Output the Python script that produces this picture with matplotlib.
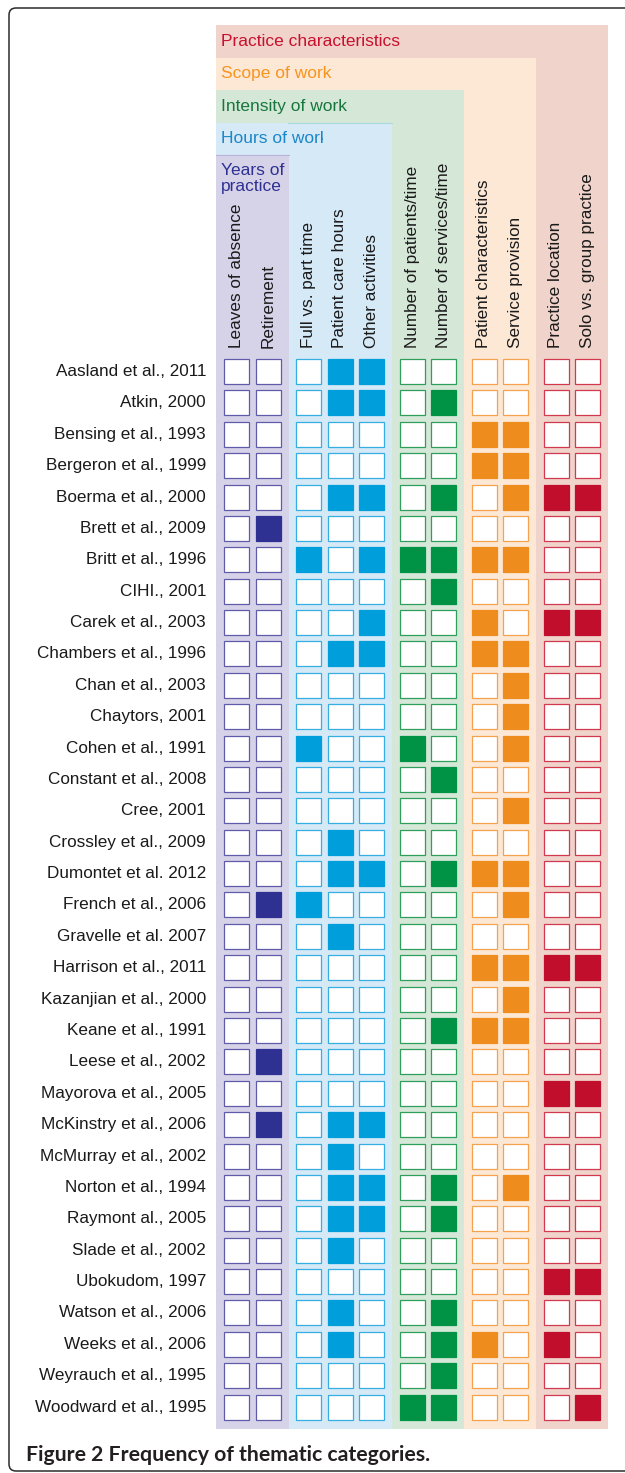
import matplotlib
matplotlib.use("Agg")
import matplotlib.pyplot as plt
from matplotlib.patches import Rectangle, FancyBboxPatch

# ---------------- data ----------------
studies = [
    "Aasland et al., 2011", "Atkin, 2000", "Bensing et al., 1993", "Bergeron et al., 1999",
    "Boerma et al., 2000", "Brett et al., 2009", "Britt et al., 1996", "CIHI., 2001",
    "Carek et al., 2003", "Chambers et al., 1996", "Chan et al., 2003", "Chaytors, 2001",
    "Cohen et al., 1991", "Constant et al., 2008", "Cree, 2001", "Crossley et al., 2009",
    "Dumontet et al. 2012", "French et al., 2006", "Gravelle et al. 2007", "Harrison et al., 2011",
    "Kazanjian et al., 2000", "Keane et al., 1991", "Leese et al., 2002", "Mayorova et al., 2005",
    "McKinstry et al., 2006", "McMurray et al., 2002", "Norton et al., 1994", "Raymont al., 2005",
    "Slade et al., 2002", "Ubokudom, 1997", "Watson et al., 2006", "Weeks et al., 2006",
    "Weyrauch et al., 1995", "Woodward et al., 1995",
]

categories = [
    "Leaves of absence", "Retirement",
    "Full vs. part time", "Patient care hours", "Other activities",
    "Number of patients/time", "Number of services/time",
    "Patient characteristics", "Service provision",
    "Practice location", "Solo vs. group practice",
]
category_group = [0, 0, 1, 1, 1, 2, 2, 3, 3, 4, 4]

groups = ["Years of\npractice", "Hours of work", "Intensity of work",
          "Scope of work", "Practice characteristics"]

leaves_of_absence = [0] * 34
retirement        = [0,0,0,0,0,1,0,0,0,0, 0,0,0,0,0,0,0,1,0,0, 0,0,1,0,1,0,0,0,0,0, 0,0,0,0]
full_vs_part      = [0,0,0,0,0,0,1,0,0,0, 0,0,1,0,0,0,0,1,0,0, 0,0,0,0,0,0,0,0,0,0, 0,0,0,0]
patient_care_hrs  = [1,1,0,0,1,0,0,0,0,1, 0,0,0,0,0,1,1,0,1,0, 0,0,0,0,1,1,1,1,1,0, 1,1,0,0]
other_activities  = [1,1,0,0,1,0,1,0,1,1, 0,0,0,0,0,0,1,0,0,0, 0,0,0,0,1,0,1,1,0,0, 0,0,0,0]
n_patients_time   = [0,0,0,0,0,0,1,0,0,0, 0,0,1,0,0,0,0,0,0,0, 0,0,0,0,0,0,0,0,0,0, 0,0,0,1]
n_services_time   = [0,1,0,0,1,0,1,1,0,0, 0,0,0,1,0,0,1,0,0,0, 0,1,0,0,0,0,1,1,0,0, 1,1,1,1]
patient_chars     = [0,0,1,1,0,0,1,0,1,1, 0,0,0,0,0,0,1,0,0,1, 0,1,0,0,0,0,0,0,0,0, 0,1,0,0]
service_provision = [0,0,1,1,1,0,1,0,0,1, 1,1,1,0,1,0,1,1,0,1, 1,1,0,0,0,0,1,0,0,0, 0,0,0,0]
practice_location = [0,0,0,0,1,0,0,0,1,0, 0,0,0,0,0,0,0,0,0,1, 0,0,0,1,0,0,0,0,0,1, 0,1,0,0]
solo_vs_group     = [0,0,0,0,1,0,0,0,1,0, 0,0,0,0,0,0,0,0,0,1, 0,0,0,1,0,0,0,0,0,1, 0,0,0,1]

columns = [leaves_of_absence, retirement, full_vs_part, patient_care_hrs, other_activities,
           n_patients_time, n_services_time, patient_chars, service_provision,
           practice_location, solo_vs_group]

caption = "Figure 2 Frequency of thematic categories."

# ---------------- styles ----------------
band_colors = ["#D6D3E9", "#D5E9F7", "#D5E8D8", "#FDE8D6", "#F0D3CB"]
text_colors = ["#2E3192", "#1B87C9", "#17773D", "#F7941D", "#C8102E"]
fill_colors = ["#2E3192", "#009FDB", "#009245", "#EF8C1E", "#C10E2C"]
edge_colors = ["#5F5BAA", "#36AEE2", "#2E9E5B", "#F5A24E", "#D2394F"]

FONT = "Liberation Sans"
W, H = 625, 1473
X0, DX, GAP = 236.5, 31.5, 9.0
Y0, DY = 371.5, 31.38
BOX = 25.0
BAND_LEFT = 216.0
BAND_TOP0, BAND_STEP = 25.0, 32.5
HALF = 20.75

fig = plt.figure(figsize=(W / 100, H / 100), dpi=100)
ax = fig.add_axes([0, 0, 1, 1])
ax.set_xlim(0, W)
ax.set_ylim(H, 0)
ax.axis("off")

col_x = [X0 + i * DX + g * GAP for i, g in enumerate(category_group)]
row_y = [Y0 + j * DY for j in range(len(studies))]
band_bottom = row_y[-1] + 22

# outer rounded frame
frame = FancyBboxPatch((9, 8), 700, 1463, boxstyle="round,pad=0,rounding_size=7",
                       facecolor="white", edgecolor="#2b2b2b", linewidth=1.1, zorder=0)
ax.add_patch(frame)

# nested group bands (outermost first)
for g in range(len(groups) - 1, -1, -1):
    cols = [i for i, cg in enumerate(category_group) if cg == g]
    right = col_x[cols[-1]] + HALF
    top = BAND_TOP0 + (len(groups) - 1 - g) * BAND_STEP
    ax.add_patch(Rectangle((BAND_LEFT, top), right - BAND_LEFT, band_bottom - top,
                           facecolor=band_colors[g], edgecolor="none", zorder=1))
    if g == 0:
        t = ax.text(BAND_LEFT + 5, top + 8, groups[g], color=text_colors[g],
                    fontsize=12.5, family=FONT, ha="left", va="top",
                    linespacing=1.12, zorder=3)
    else:
        t = ax.text(BAND_LEFT + 5, top + BAND_STEP / 2, groups[g], color=text_colors[g],
                    fontsize=12.5, family=FONT, ha="left", va="center", zorder=3)
    if g == 1:
        clip = Rectangle((BAND_LEFT, top), 323 - BAND_LEFT, BAND_STEP,
                         transform=ax.transData)
        t.set_clip_path(clip)
        t.set_clip_on(True)

# thin top lines of the inner bands
hours_top = BAND_TOP0 + 3 * BAND_STEP
years_top = BAND_TOP0 + 4 * BAND_STEP
ax.plot([col_x[2] - HALF, col_x[4] + HALF], [hours_top, hours_top],
        color="#A9D9DC", lw=0.8, zorder=2)
ax.plot([BAND_LEFT, col_x[1] + HALF], [years_top, years_top],
        color="#B7B3D9", lw=0.8, zorder=2)

# column labels
for i, name in enumerate(categories):
    ax.text(col_x[i], 348, name, rotation=90, ha="center", va="bottom",
            fontsize=12.3, family=FONT, color="#1a1a1a", zorder=3)

# row labels
for j, name in enumerate(studies):
    ax.text(206, row_y[j], name, ha="right", va="center",
            fontsize=12.3, family=FONT, color="#1a1a1a", zorder=3)

# cells
for i, col in enumerate(columns):
    g = category_group[i]
    for j, v in enumerate(col):
        if v:
            fc, ec = fill_colors[g], fill_colors[g]
        else:
            fc, ec = "white", edge_colors[g]
        ax.add_patch(Rectangle((col_x[i] - BOX / 2, row_y[j] - BOX / 2), BOX, BOX,
                               facecolor=fc, edgecolor=ec, linewidth=0.9, zorder=2))

# caption
ax.text(26, 1455, caption, fontsize=15.3, fontweight="bold", family="Lato",
        color="#231f20", ha="left", va="center")

fig.savefig("out.png", dpi=100)
